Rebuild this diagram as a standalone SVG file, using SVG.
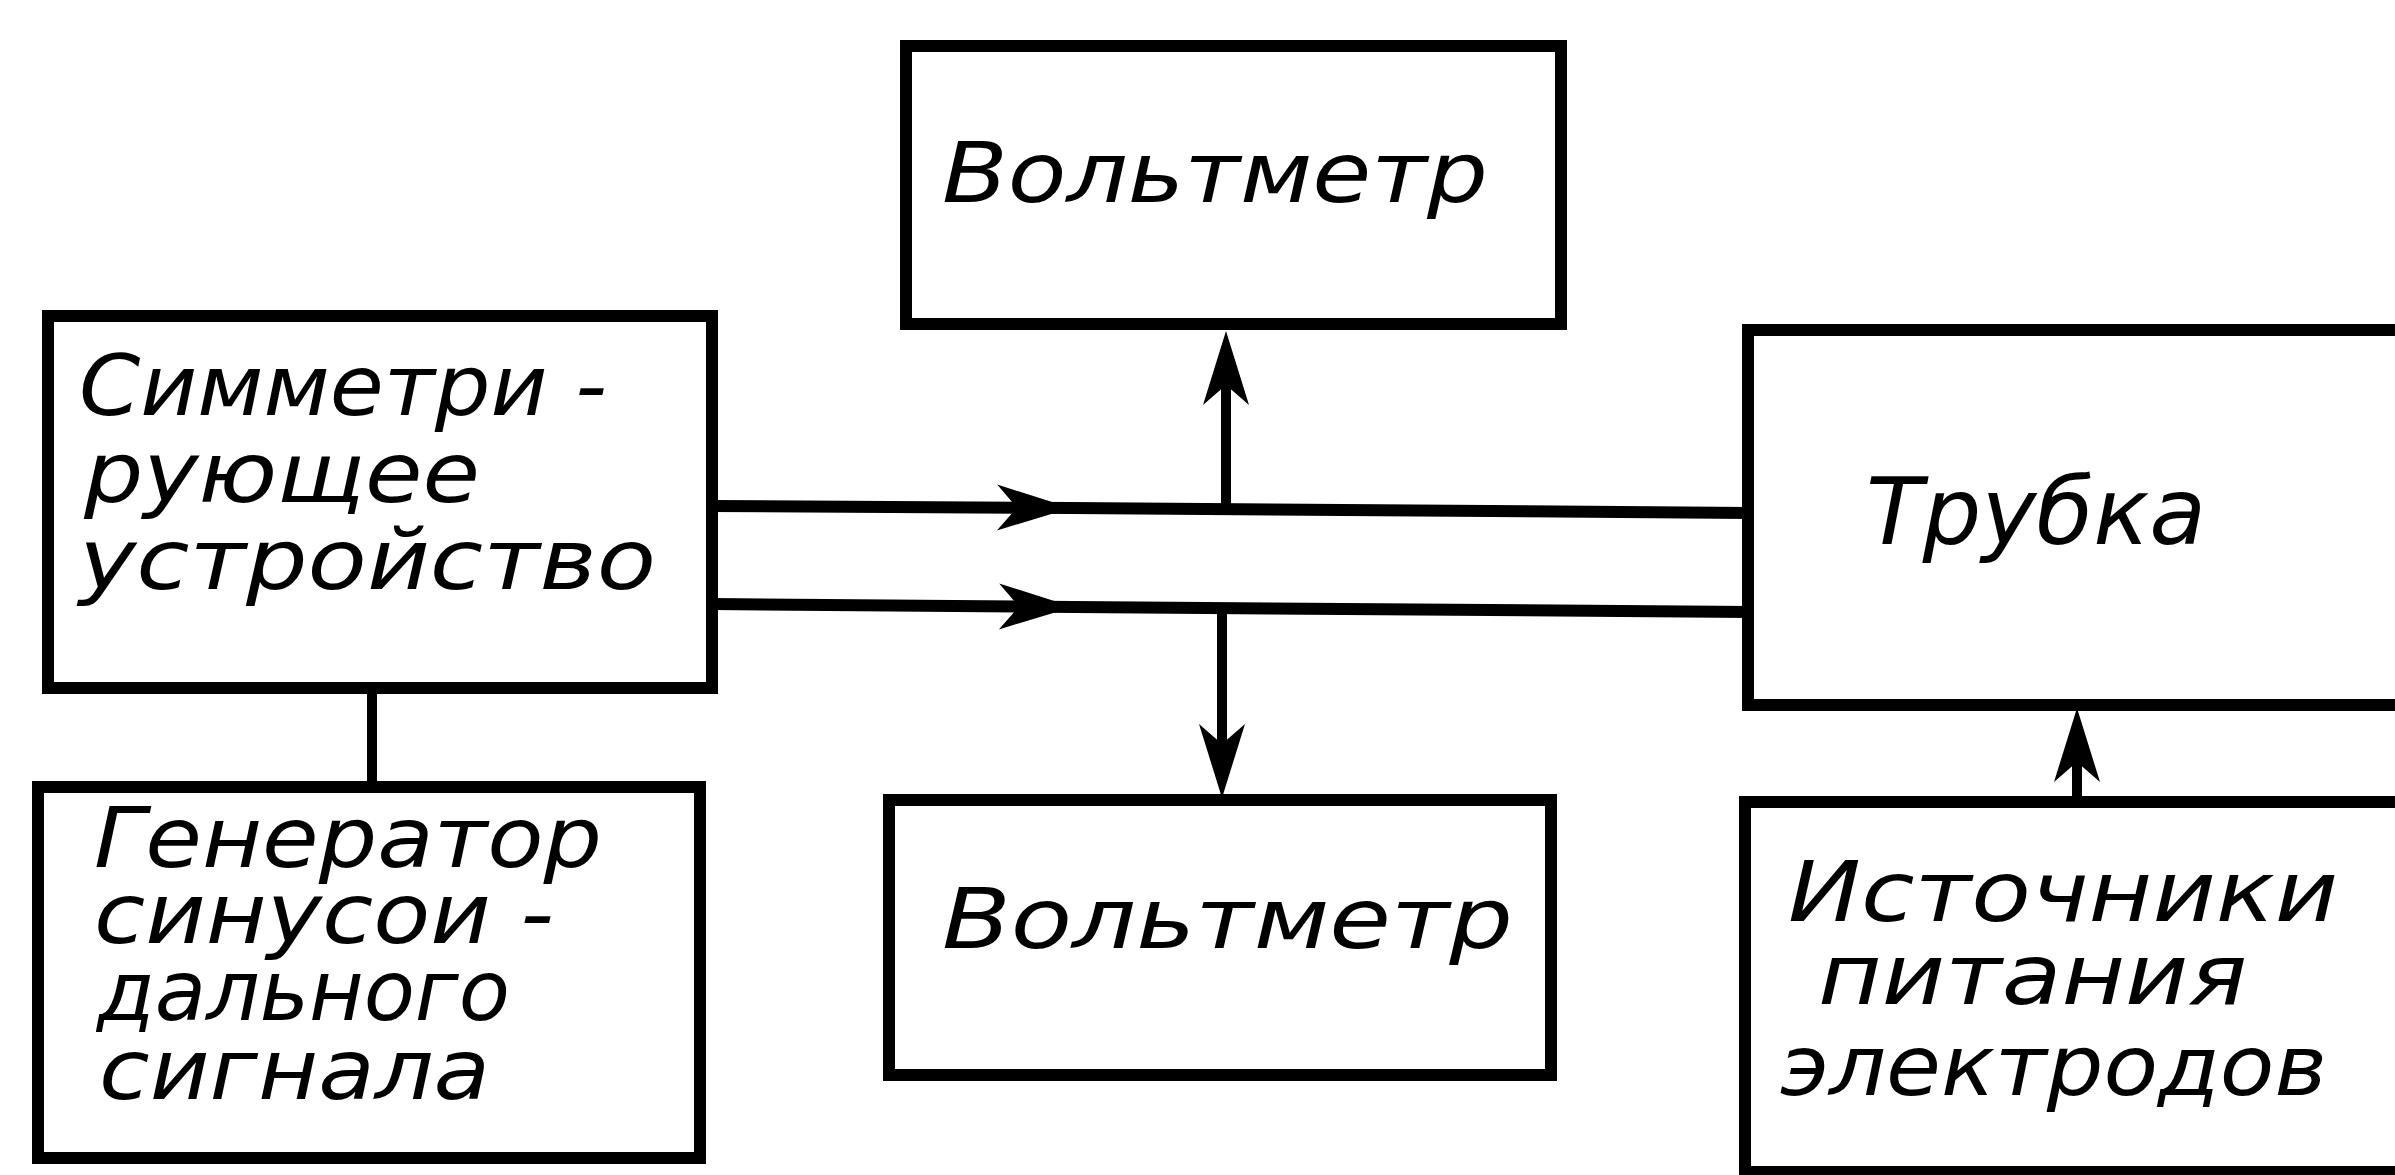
<svg xmlns="http://www.w3.org/2000/svg" width="2395" height="1175" viewBox="0 0 2395 1175">
<style>
.box{fill:none;stroke:#000;stroke-width:12;stroke-linejoin:miter}
.wire{fill:none;stroke:#000;stroke-width:12}
.vwire{fill:none;stroke:#000;stroke-width:10}
.lbl{font-family:"DejaVu Sans Condensed","DejaVu Sans",sans-serif;font-style:oblique;font-size:84px;fill:#000}
</style>
<defs>
<marker id="ah" markerUnits="userSpaceOnUse" markerWidth="80" markerHeight="52" viewBox="-76 -26 80 52" refX="0" refY="0" orient="auto" overflow="visible">
<path d="M0,0 L-74,-23 L-54,0 L-74,23 Z" fill="#000"/>
</marker>
<marker id="ahEnd" markerUnits="userSpaceOnUse" markerWidth="80" markerHeight="52" viewBox="-76 -26 80 52" refX="-24" refY="0" orient="auto" overflow="visible">
<path d="M0,0 L-74,-23 L-54,0 L-74,23 Z" fill="#000"/>
</marker>
</defs>
<rect x="0" y="0" width="2395" height="1175" fill="#fff"/>
<g id="connectors">
<path class="wire" d="M712,506 L1071,508 L1750,513" marker-mid="url(#ah)"/>
<path class="wire" d="M712,604 L1073,607 L1750,612" marker-mid="url(#ah)"/>
<path class="vwire" d="M1226,508 L1226,355" marker-end="url(#ahEnd)"/>
<path class="vwire" d="M1222,607 L1222,774" marker-end="url(#ahEnd)"/>
<path class="vwire" d="M2077,802 L2077,732" marker-end="url(#ahEnd)"/>
<path class="vwire" d="M372,688 L372,787"/>
</g>
<g id="symmetrizer">
<rect class="box" x="48" y="316" width="664" height="372"/>
<text class="lbl" x="79" y="415" textLength="528" lengthAdjust="spacingAndGlyphs">Симметри -</text>
<text class="lbl" x="84" y="502" textLength="396" lengthAdjust="spacingAndGlyphs">рующее</text>
<text class="lbl" x="79" y="589" textLength="577" lengthAdjust="spacingAndGlyphs">устройство</text>
</g>
<g id="generator">
<rect class="box" x="38" y="787" width="662" height="371"/>
<text class="lbl" x="94" y="867" textLength="508" lengthAdjust="spacingAndGlyphs">Генератор</text>
<text class="lbl" x="94" y="943" textLength="460" lengthAdjust="spacingAndGlyphs">синусои -</text>
<text class="lbl" x="97" y="1020" textLength="413" lengthAdjust="spacingAndGlyphs">дального</text>
<text class="lbl" x="99" y="1099" textLength="391" lengthAdjust="spacingAndGlyphs">сигнала</text>
</g>
<g id="voltmeter-top">
<rect class="box" x="906" y="46" width="655" height="278"/>
<text class="lbl" x="942" y="202" textLength="546" lengthAdjust="spacingAndGlyphs">Вольтметр</text>
</g>
<g id="voltmeter-bottom">
<rect class="box" x="889" y="800" width="662" height="275"/>
<text class="lbl" x="942" y="948" textLength="571" lengthAdjust="spacingAndGlyphs">Вольтметр</text>
</g>
<g id="tube">
<rect class="box" x="1748" y="330" width="660" height="375"/>
<text class="lbl" x="1866" y="544" textLength="340" lengthAdjust="spacingAndGlyphs" style="font-size:92px">Трубка</text>
</g>
<g id="power-sources">
<rect class="box" x="1745" y="802" width="660" height="370"/>
<text class="lbl" x="1788" y="921" textLength="550" lengthAdjust="spacingAndGlyphs">Источники</text>
<text class="lbl" x="1818" y="1004" textLength="429" lengthAdjust="spacingAndGlyphs">питания</text>
<text class="lbl" x="1780" y="1095" textLength="547" lengthAdjust="spacingAndGlyphs">электродов</text>
</g>
</svg>
